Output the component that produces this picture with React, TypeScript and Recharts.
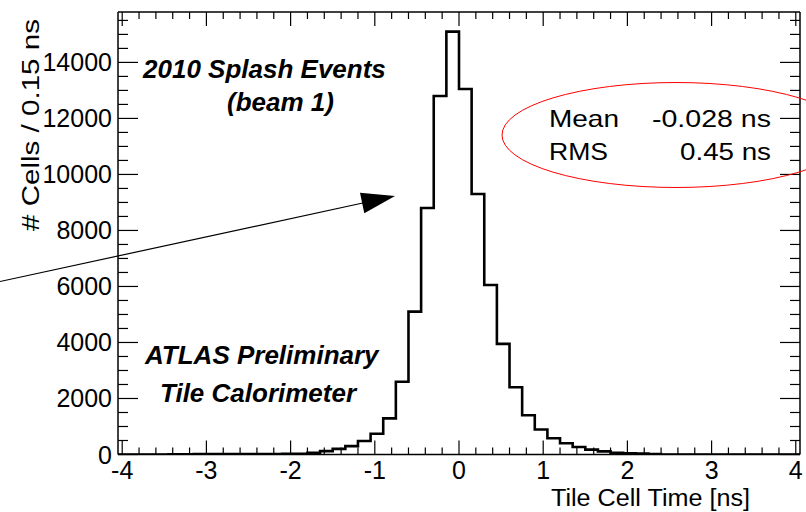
import React from 'react';
import { ComposedChart, Line, XAxis, YAxis } from 'recharts';

// histogram: 54 bins of 0.15 ns from -4.05 to 4.05
const binLowEdges = [
  -4.05, -3.9, -3.75, -3.6, -3.45, -3.3, -3.15, -3.0, -2.85, -2.7, -2.55, -2.4, -2.25, -2.1,
  -1.95, -1.8, -1.65, -1.5, -1.35, -1.2, -1.05, -0.9, -0.75, -0.6, -0.45, -0.3, -0.15, 0,
  0.15, 0.3, 0.45, 0.6, 0.75, 0.9, 1.05, 1.2, 1.35, 1.5, 1.65, 1.8, 1.95, 2.1, 2.25, 2.4,
  2.55, 2.7, 2.85, 3.0, 3.15, 3.3, 3.45, 3.6, 3.75, 3.9,
];
const cellCounts = [
  0, 0, 0, 0, 10, 10, 12, 12, 14, 15, 16, 18, 20, 22,
  28, 60, 120, 200, 300, 480, 740, 1290, 2600, 5100, 8800, 12800, 15100, 13050,
  9300, 6050, 3950, 2400, 1400, 890, 580, 400, 270, 175, 110, 60, 40, 30, 20, 0,
  0, 0, 0, 0, 0, 0, 0, 0, 0, 0,
];
const histUpperEdge = 4.05;

const xTicks = [
  -4, -3.8, -3.6, -3.4, -3.2, -3, -2.8, -2.6, -2.4, -2.2, -2, -1.8, -1.6, -1.4, -1.2, -1,
  -0.8, -0.6, -0.4, -0.2, 0, 0.2, 0.4, 0.6, 0.8, 1, 1.2, 1.4, 1.6, 1.8, 2, 2.2, 2.4, 2.6,
  2.8, 3, 3.2, 3.4, 3.6, 3.8, 4,
];
const xLabels = [-4, -3, -2, -1, 0, 1, 2, 3, 4];
const yTicks = [
  0, 500, 1000, 1500, 2000, 2500, 3000, 3500, 4000, 4500, 5000, 5500, 6000, 6500, 7000,
  7500, 8000, 8500, 9000, 9500, 10000, 10500, 11000, 11500, 12000, 12500, 13000, 13500,
  14000, 14500, 15000, 15500,
];
const yLabels = [0, 2000, 4000, 6000, 8000, 10000, 12000, 14000];

const data = binLowEdges
  .map((x, i) => ({ x, n: cellCounts[i] }))
  .concat([{ x: histUpperEdge, n: cellCounts[cellCounts.length - 1] }]);

const FONT = '"Liberation Sans", Arial, Helvetica, sans-serif';

const BottomTick = (props: any) => {
  const { x, y, payload } = props;
  const major = xLabels.includes(payload.value);
  return (
    <g>
      <line x1={x} x2={x} y1={y} y2={y - (major ? 14 : 7)} stroke="#000" strokeWidth={1.2} />
      {major && (
        <text x={x} y={y + 24.5} textAnchor="middle" fontSize={25} fontFamily={FONT} fill="#000">
          {payload.value}
        </text>
      )}
    </g>
  );
};

const TopTick = (props: any) => {
  const { x, y, payload } = props;
  const major = xLabels.includes(payload.value);
  return <line x1={x} x2={x} y1={y} y2={y + (major ? 14 : 7)} stroke="#000" strokeWidth={1.2} />;
};

const LeftTick = (props: any) => {
  const { x, y, payload } = props;
  const major = yLabels.includes(payload.value);
  return (
    <g>
      <line x1={x} x2={x + (major ? 20 : 10)} y1={y} y2={y} stroke="#000" strokeWidth={1.2} />
      {major && (
        <text x={x - 6} y={y + 9} textAnchor="end" fontSize={25} fontFamily={FONT} fill="#000">
          {payload.value}
        </text>
      )}
    </g>
  );
};

const RightTick = (props: any) => {
  const { x, y, payload } = props;
  const major = yLabels.includes(payload.value);
  return <line x1={x} x2={x - (major ? 20 : 10)} y1={y} y2={y} stroke="#000" strokeWidth={1.2} />;
};

const labelStyle = { fontFamily: FONT, fontWeight: 700, fontStyle: 'italic', fontSize: 26 } as const;

export default function App() {
  return (
    <div style={{ position: 'absolute', left: 0, top: 0, width: 806, height: 512, background: '#fff' }}>
      <ComposedChart
        width={806}
        height={512}
        data={data}
        margin={{ top: 11, right: 5, bottom: 0, left: 0 }}
      >
        <XAxis
          xAxisId="b"
          dataKey="x"
          type="number"
          domain={[-4.05, 4.05]}
          ticks={xTicks}
          interval={0}
          height={57.5}
          tickSize={0}
          tickMargin={0}
          tickLine={false}
          tick={<BottomTick />}
          axisLine={{ stroke: '#000', strokeWidth: 1.5 }}
          allowDataOverflow
        />
        <XAxis
          xAxisId="t"
          dataKey="x"
          type="number"
          orientation="top"
          domain={[-4.05, 4.05]}
          ticks={xTicks}
          interval={0}
          height={1}
          tickSize={0}
          tickMargin={0}
          tickLine={false}
          tick={<TopTick />}
          axisLine={{ stroke: '#000', strokeWidth: 1.5 }}
          allowDataOverflow
        />
        <YAxis
          yAxisId="l"
          type="number"
          domain={[0, 15800]}
          ticks={yTicks}
          interval={0}
          width={118}
          tickSize={0}
          tickMargin={0}
          tickLine={false}
          tick={<LeftTick />}
          axisLine={{ stroke: '#000', strokeWidth: 1.5 }}
          allowDataOverflow
        />
        <YAxis
          yAxisId="r"
          type="number"
          orientation="right"
          domain={[0, 15800]}
          ticks={yTicks}
          interval={0}
          width={1}
          tickSize={0}
          tickMargin={0}
          tickLine={false}
          tick={<RightTick />}
          axisLine={{ stroke: '#000', strokeWidth: 1.5 }}
          allowDataOverflow
        />
        <Line
          xAxisId="b"
          yAxisId="l"
          dataKey="n"
          type="stepAfter"
          stroke="#000"
          strokeWidth={2.6}
          dot={false}
          isAnimationActive={false}
        />
      </ComposedChart>

      {/* annotations drawn on top */}
      <svg
        width={806}
        height={512}
        style={{ position: 'absolute', left: 0, top: 0, pointerEvents: 'none', overflow: 'hidden' }}
      >
        <text
          transform="translate(39 125) rotate(-90)"
          textAnchor="middle"
          fontSize={23}
          fontFamily={FONT}
          fill="#000"
          textLength={212}
          lengthAdjust="spacingAndGlyphs"
        >
          # Cells / 0.15 ns
        </text>
        <text
          x={551}
          y={506}
          fontSize={23}
          fontFamily={FONT}
          fill="#000"
          textLength={199}
          lengthAdjust="spacingAndGlyphs"
        >
          Tile Cell Time [ns]
        </text>

        <text x={143} y={78} style={labelStyle}>2010 Splash Events</text>
        <text x={227} y={111} style={labelStyle}>(beam 1)</text>
        <text x={145} y={364} style={labelStyle}>ATLAS Preliminary</text>
        <text x={160} y={402} style={labelStyle}>Tile Calorimeter</text>

        <ellipse cx={676} cy={135} rx={174} ry={52.5} fill="none" stroke="#f00" strokeWidth={1} />
        <text x={549} y={127} fontSize={24} fontFamily={FONT} fill="#000" textLength={70} lengthAdjust="spacingAndGlyphs">Mean</text>
        <text x={652} y={127} fontSize={24} fontFamily={FONT} fill="#000" textLength={119} lengthAdjust="spacingAndGlyphs">-0.028 ns</text>
        <text x={549} y={160} fontSize={24} fontFamily={FONT} fill="#000" textLength={59} lengthAdjust="spacingAndGlyphs">RMS</text>
        <text x={680} y={160} fontSize={24} fontFamily={FONT} fill="#000" textLength={91} lengthAdjust="spacingAndGlyphs">0.45 ns</text>

        <line x1={0} y1={281.5} x2={372} y2={201} stroke="#000" strokeWidth={1.2} />
        <polygon points="395,196 360,192.7 364.3,213.3" fill="#000" />
      </svg>
    </div>
  );
}
